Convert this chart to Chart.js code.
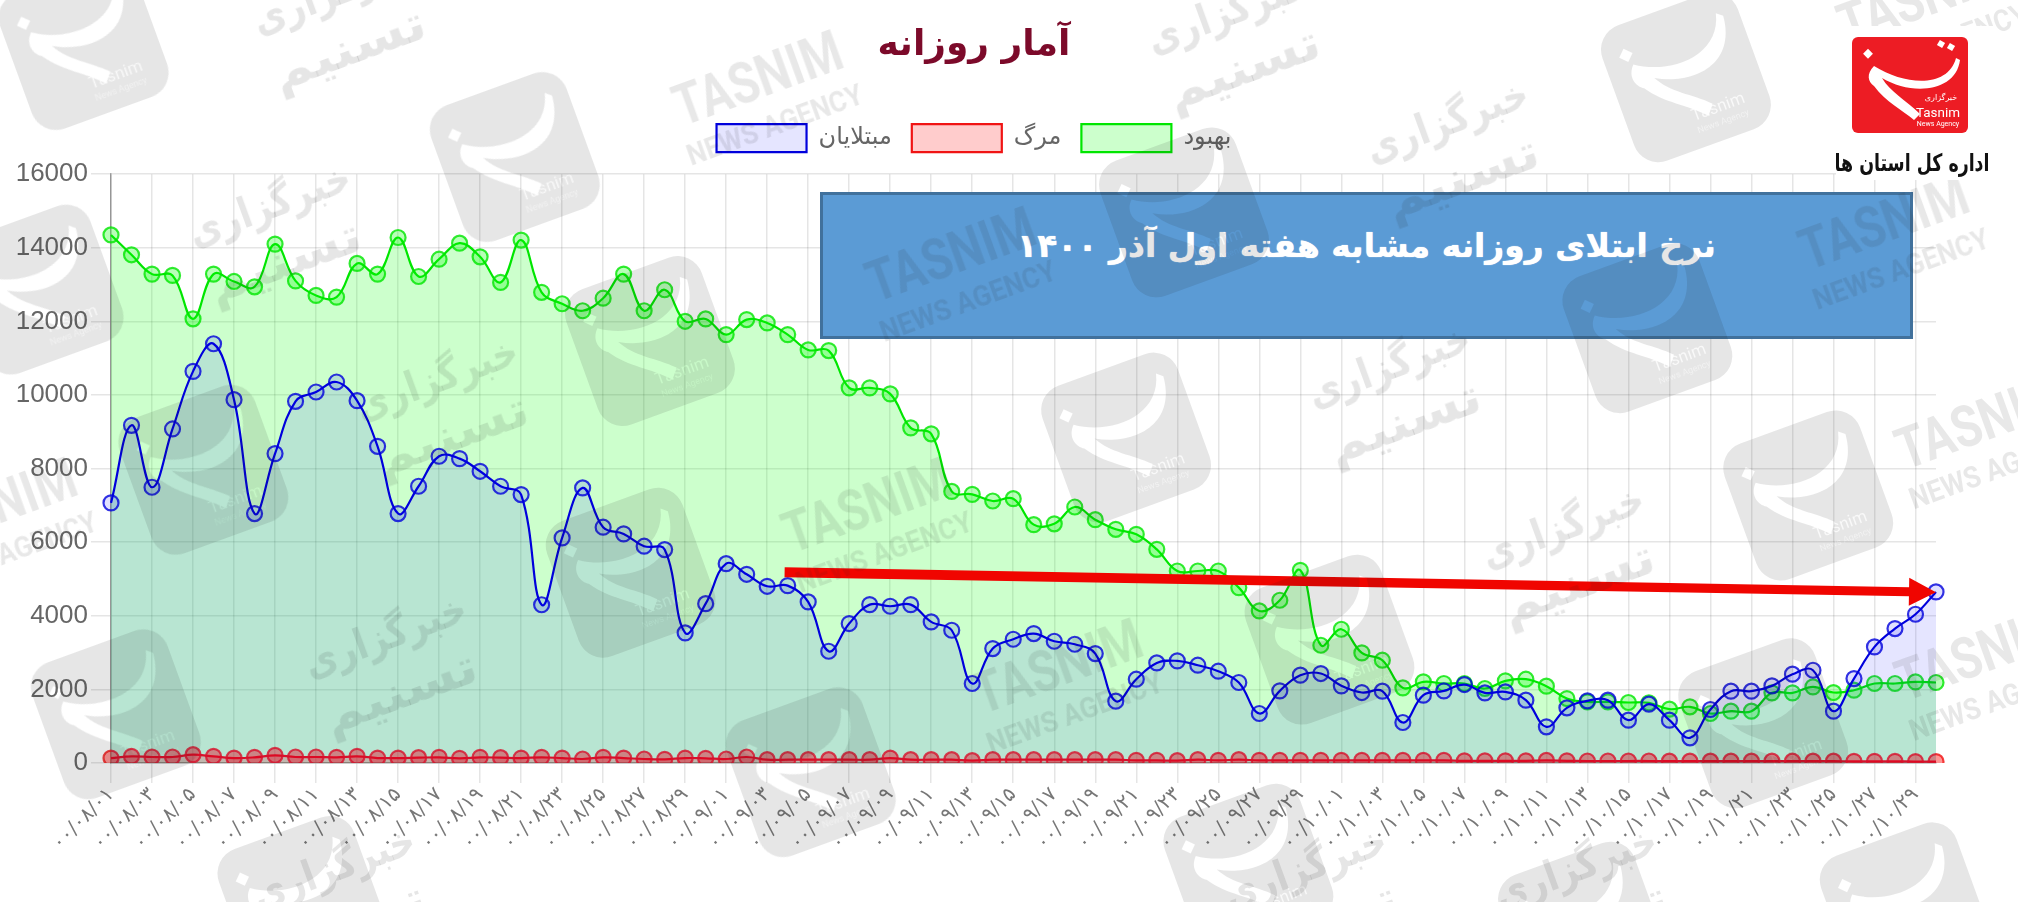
<!DOCTYPE html>
<html lang="fa"><head><meta charset="utf-8">
<script src="https://cdn.jsdelivr.net/npm/chart.js@4"></script>
<style>
html,body{margin:0;padding:0;background:#fff;width:2018px;height:902px;overflow:hidden}
#stage{position:relative;width:2018px;height:902px;filter:blur(.5px)}
#c{position:absolute;left:0;top:0}
#box{position:absolute;left:820px;top:192px;width:1087px;height:141px;background:#5b9bd5;border:3px solid #41719c;
 color:#fff;font:bold 33px "DejaVu Sans",sans-serif;text-align:center;line-height:40px;padding-top:0;direction:rtl}
#box span{position:absolute;left:0;right:0;top:31px;text-shadow:0 0 1px #fff}
#wm{position:absolute;left:0;top:0}
#logo{position:absolute;left:1836px;top:26px;width:160px;height:154px;background:#fff}
</style></head><body>
<div id="stage">
<canvas id="c" width="2018" height="902" style="width:2018px;height:902px"></canvas>
<div id="box"><span>نرخ ابتلای روزانه مشابه هفته اول آذر ۱۴۰۰</span></div>
<svg id="wm" width="2018" height="902" xmlns="http://www.w3.org/2000/svg"></svg>
<svg id="logo" viewBox="0 0 160 154" xmlns="http://www.w3.org/2000/svg">
 <rect x="16" y="11" width="116" height="96" rx="6" fill="#ed1c24"/>
 <path d="M120 32 C112 62 70 60 38 40 C30 48 32 56 38 60 C50 76 66 84 78 94 L84 88 C70 74 54 66 46 52 C76 70 120 66 124 34 Z" fill="#fff"/>
 <rect x="102" y="15" width="6" height="6" fill="#fff" transform="rotate(30 105 18)"/><rect x="112" y="18" width="6" height="6" fill="#fff" transform="rotate(30 115 21)"/>
 <rect x="29" y="24" width="7" height="7" fill="#fff" transform="rotate(45 32 27)"/>
 <text x="105" y="74" font-family="DejaVu Sans" font-size="8" fill="#fff" text-anchor="middle">خبرگزاری</text>
 <text x="102" y="91" font-family="Roboto" font-size="13" fill="#fff" text-anchor="middle" textLength="44" lengthAdjust="spacingAndGlyphs">Tasnim</text>
 <text x="102" y="100" font-family="Roboto" font-size="7" fill="#fff" text-anchor="middle">News Agency</text>
 <text x="76" y="145" font-family="DejaVu Sans" font-weight="bold" font-size="24" fill="#111" text-anchor="middle" textLength="155" lengthAdjust="spacingAndGlyphs" direction="rtl">اداره کل استان ها</text>
</svg>
</div>
<script>
const categories = [
'۰۰/۰۸/۰۱','۰۰/۰۸/۰۲','۰۰/۰۸/۰۳','۰۰/۰۸/۰۴','۰۰/۰۸/۰۵','۰۰/۰۸/۰۶','۰۰/۰۸/۰۷','۰۰/۰۸/۰۸','۰۰/۰۸/۰۹','۰۰/۰۸/۱۰',
'۰۰/۰۸/۱۱','۰۰/۰۸/۱۲','۰۰/۰۸/۱۳','۰۰/۰۸/۱۴','۰۰/۰۸/۱۵','۰۰/۰۸/۱۶','۰۰/۰۸/۱۷','۰۰/۰۸/۱۸','۰۰/۰۸/۱۹','۰۰/۰۸/۲۰',
'۰۰/۰۸/۲۱','۰۰/۰۸/۲۲','۰۰/۰۸/۲۳','۰۰/۰۸/۲۴','۰۰/۰۸/۲۵','۰۰/۰۸/۲۶','۰۰/۰۸/۲۷','۰۰/۰۸/۲۸','۰۰/۰۸/۲۹','۰۰/۰۸/۳۰',
'۰۰/۰۹/۰۱','۰۰/۰۹/۰۲','۰۰/۰۹/۰۳','۰۰/۰۹/۰۴','۰۰/۰۹/۰۵','۰۰/۰۹/۰۶','۰۰/۰۹/۰۷','۰۰/۰۹/۰۸','۰۰/۰۹/۰۹','۰۰/۰۹/۱۰',
'۰۰/۰۹/۱۱','۰۰/۰۹/۱۲','۰۰/۰۹/۱۳','۰۰/۰۹/۱۴','۰۰/۰۹/۱۵','۰۰/۰۹/۱۶','۰۰/۰۹/۱۷','۰۰/۰۹/۱۸','۰۰/۰۹/۱۹','۰۰/۰۹/۲۰',
'۰۰/۰۹/۲۱','۰۰/۰۹/۲۲','۰۰/۰۹/۲۳','۰۰/۰۹/۲۴','۰۰/۰۹/۲۵','۰۰/۰۹/۲۶','۰۰/۰۹/۲۷','۰۰/۰۹/۲۸','۰۰/۰۹/۲۹','۰۰/۰۹/۳۰',
'۰۰/۱۰/۰۱','۰۰/۱۰/۰۲','۰۰/۱۰/۰۳','۰۰/۱۰/۰۴','۰۰/۱۰/۰۵','۰۰/۱۰/۰۶','۰۰/۱۰/۰۷','۰۰/۱۰/۰۸','۰۰/۱۰/۰۹','۰۰/۱۰/۱۰',
'۰۰/۱۰/۱۱','۰۰/۱۰/۱۲','۰۰/۱۰/۱۳','۰۰/۱۰/۱۴','۰۰/۱۰/۱۵','۰۰/۱۰/۱۶','۰۰/۱۰/۱۷','۰۰/۱۰/۱۸','۰۰/۱۰/۱۹','۰۰/۱۰/۲۰',
'۰۰/۱۰/۲۱','۰۰/۱۰/۲۲','۰۰/۱۰/۲۳','۰۰/۱۰/۲۴','۰۰/۱۰/۲۵','۰۰/۱۰/۲۶','۰۰/۱۰/۲۷','۰۰/۱۰/۲۸','۰۰/۱۰/۲۹','۰۰/۱۰/۳۰'];
const infected = [7068,9176,7493,9077,10642,11393,9873,6778,8407,9828,10081,10353,9846,8606,6778,7520,8335,8271,7927,7520,7294,4300,6117,7475,6407,6226,5891,5800,
3535,4330,5417,5128,4802,4820,4377,3037,3790,4304,4259,4304,3834,3607,2160,3110,3363,3517,3309,3227,2974,1680,2277,2720,2775,2657,2494,2187,1345,1960,2386,
2431,2096,1915,1951,1100,1843,1960,2132,1906,1933,1707,983,1499,1689,1707,1164,1598,1164,684,1454,1951,1951,2096,2413,2521,1408,2295,3155,3653,4042,4648];
const deaths = [135,181,163,163,226,181,135,154,208,163,163,154,181,135,135,145,154,127,154,145,135,154,135,109,154,135,109,100,135,127,109,163,90,90,90,90,90,90,135,90,90,90,63,90,
90,90,90,90,90,90,72,72,63,90,72,90,72,72,72,72,72,72,72,72,72,72,
60,60,60,60,70,60,55,55,55,55,50,50,50,50,50,50,50,50,50,45,45,45,40,40];
const recovered = [14350,13810,13285,13250,12070,13285,13085,12940,14100,13100,12705,12660,13575,13285,14280,13220,13690,14125,13755,13060,14210,12790,12480,12290,12630,13285,12290,12860,12003,
12067,11641,12049,11958,11641,11225,11207,10193,10193,10030,9107,8945,7379,
7300,7120,7182,6476,6500,6956,6612,6350,6214,5806,5218,5218,5218,4766,4132,4422,5236,
3200,3635,2992,2793,2042,2205,2160,2160,2024,2232,2277,2087,1752,1662,1662,1644,1635,1463,1526,1345,1408,1408,1906,1906,2069,1915,1978,2160,2160,2205,2187];
const yTicks = [0,2000,4000,6000,8000,10000,12000,14000,16000];
const trendArrow = {fromIndex:32.85, fromValue:5183, toIndex:89, toValue:4640};

const arrowPlugin = {id:'arrow', afterDatasetsDraw(chart){
  const x=chart.scales.x,y=chart.scales.y,ctx=chart.ctx;
  const x0=x.getPixelForValue(trendArrow.fromIndex),y0=y.getPixelForValue(trendArrow.fromValue);
  const x1=x.getPixelForValue(trendArrow.toIndex),y1=y.getPixelForValue(trendArrow.toValue);
  const a=Math.atan2(y1-y0,x1-x0),len=Math.hypot(x1-x0,y1-y0);
  ctx.save();ctx.translate(x0,y0);ctx.rotate(a);ctx.fillStyle='#f00500';
  ctx.beginPath();ctx.moveTo(0,-5);ctx.lineTo(len-27,-4.5);ctx.lineTo(len-27,-14);ctx.lineTo(len,0);
  ctx.lineTo(len-27,14);ctx.lineTo(len-27,4.5);ctx.lineTo(0,5);ctx.closePath();ctx.fill();ctx.restore();
}};
// leaves the gap the reference has between the legend row and the plot
const legendGap = {id:'legendGap', beforeLayout(chart){
  const l=chart.legend; if(!l||l._gapped) return; const f=l.fit;
  l.fit=function(){f.call(this); this.height+=12;}; l._gapped=true;
}};
function ds(label,data,line,fillRgb,alpha,ptAlpha){return {label,data,borderColor:`rgb(${line})`,backgroundColor:`rgba(${fillRgb},${alpha})`,
  fill:true,tension:.4,borderWidth:2.2,pointRadius:7.5,pointBorderWidth:2.2,pointBackgroundColor:`rgba(${fillRgb},${ptAlpha})`,pointBorderColor:`rgba(${line},.8)`};}
new Chart(document.getElementById('c'),{type:'line',
 data:{labels:categories,datasets:[
  ds('مبتلایان',infected,'0,0,220','0,0,255',.1,.12),
  ds('مرگ',deaths,'240,20,20','255,0,0',.2,.42),
  ds('بهبود',recovered,'0,230,0','0,255,0',.2,.28)]},
 plugins:[arrowPlugin,legendGap],
 options:{responsive:false,animation:false,
  layout:{padding:{left:12,right:82,top:0,bottom:0}},
  plugins:{tooltip:{enabled:false},
   title:{display:true,text:'آمار روزانه',color:'#7c0a2a',font:{family:'DejaVu Sans',size:36,weight:'bold'},padding:{top:24,bottom:37}},
   legend:{position:'top',labels:{boxWidth:90,boxHeight:28,padding:20,color:'#666',font:{family:'DejaVu Sans',size:24}}}},
  scales:{
   x:{afterFit(s){s.height=139},grid:{color:'rgba(0,0,0,.1)',lineWidth:1.5,tickLength:20},border:{color:'rgba(0,0,0,.3)',width:1.5},
     ticks:{autoSkip:true,maxTicksLimit:45,autoSkipPadding:0,minRotation:45,maxRotation:45,color:'#777',padding:0,font:{family:'DejaVu Sans',size:20}}},
   y:{min:0,max:16000,afterFit(s){s.width=99},afterBuildTicks(s){s.ticks=yTicks.map(v=>({value:v}))},
     grid:{color:'rgba(0,0,0,.1)',lineWidth:1.5,tickLength:20},border:{color:'rgba(0,0,0,.35)',width:1.5},
     ticks:{color:'#666',padding:3,callback:v=>String(v),font:{family:'Liberation Sans',size:26}}}
  }}});

// agency watermark stamped over the picture
const wm=document.getElementById('wm');
const K=2018/1568;
wm.innerHTML=`<defs><mask id="cut" maskUnits="userSpaceOnUse" x="-120" y="-120" width="240" height="240">
 <rect x="-120" y="-120" width="240" height="240" fill="#fff"/>
 <path d="M50 -50 C40 -8 -14 -8 -45 -30 C-55 -20 -50 -8 -43 -4 C-28 18 -9 25 8 44 L16 34 C0 18 -20 9 -30 -10 C5 10 52 5 56 -45 Z" fill="#000"/>
 <rect x="-54" y="-46" width="10" height="10" transform="rotate(45 -49 -41)" fill="#000"/>
 <text x="20" y="44" font-family="Roboto" font-size="17" fill="#000" text-anchor="middle" opacity=".75">Tasnim</text>
 <text x="20" y="57" font-family="Roboto" font-size="9" fill="#000" text-anchor="middle" opacity=".5">News Agency</text>
 </mask></defs>`;
const logos=[[65,35],[400,122],[158,365],[30,225],[505,265],[490,445],[90,555],[630,600],[875,340],[920,165],[1280,255],[1310,60],[1405,385],[1370,562],[1033,497],[970,675],[235,700],[1480,705],[1230,720]];
const fatext=[[215,175],[345,310],[305,510],[1130,110],[1085,300],[1220,425],[960,25],[265,10],[265,690],[1020,690],[1230,690]];
const entext=[[595,78],[745,215],[680,410],[828,535],[1470,190],[1545,525],[1545,345],[1500,15],[0,410]];
let h='';
for(const [x,y] of logos){h+=`<g transform="translate(${x*K} ${y*K}) rotate(-20)"><rect x="-72" y="-72" width="144" height="144" rx="26" fill="rgba(30,30,30,.11)" mask="url(#cut)"/></g>`;}
for(const [x,y] of fatext){h+=`<g transform="translate(${x*K} ${y*K}) rotate(-20)" font-family="DejaVu Sans" font-weight="bold" fill="rgba(30,30,30,.11)" text-anchor="middle"><text y="-8" font-size="42" textLength="170" lengthAdjust="spacingAndGlyphs">خبرگزاری</text><text x="-5" y="52" font-size="48" textLength="160" lengthAdjust="spacingAndGlyphs">تسنیم</text></g>`;}
for(const [x,y] of entext){h+=`<g transform="translate(${x*K} ${y*K}) rotate(-20)" font-family="Roboto" font-weight="bold" fill="rgba(30,30,30,.1)" text-anchor="middle"><text y="-4" font-size="58" textLength="175" lengthAdjust="spacingAndGlyphs">TASNIM</text><text y="36" font-size="30" textLength="185" lengthAdjust="spacingAndGlyphs">NEWS AGENCY</text></g>`;}
wm.insertAdjacentHTML('beforeend',h);
</script>
</body></html>
